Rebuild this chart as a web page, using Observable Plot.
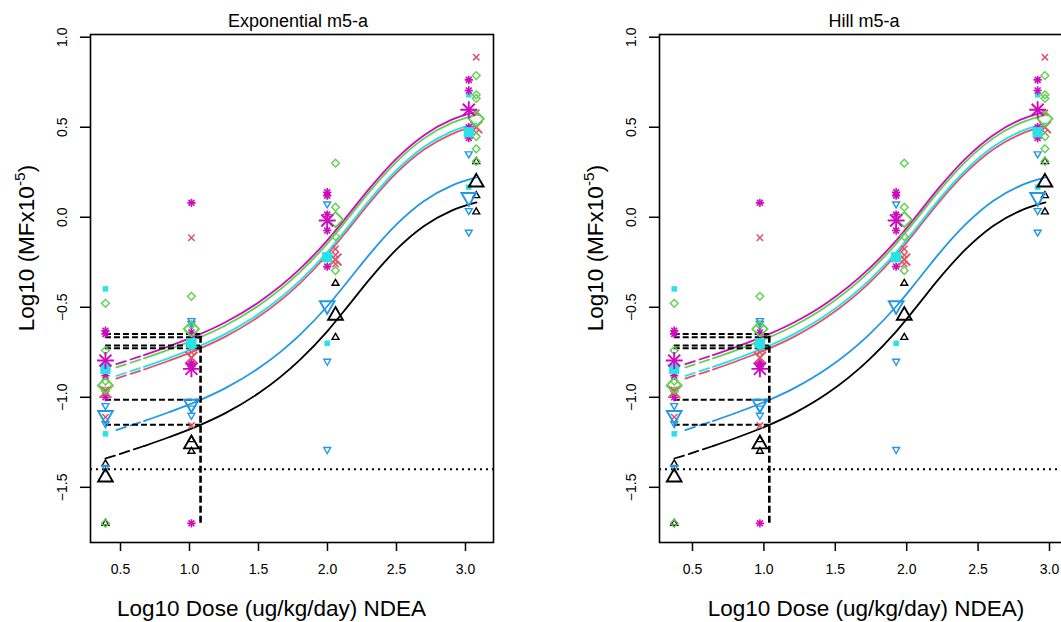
<!DOCTYPE html>
<html>
<head>
<meta charset="utf-8">
<script src="https://cdn.jsdelivr.net/npm/d3@7"></script>
<script src="https://cdn.jsdelivr.net/npm/@observablehq/plot@0.6"></script>
<style>
html, body { margin: 0; padding: 0; background: #fff; overflow: hidden; }
#root { position: relative; width: 1061px; height: 622px; overflow: hidden; background: #fff; }
#root svg { position: absolute; top: 0; }
</style>
</head>
<body>
<div id="root"></div>
<script>
// ---------------- data ----------------
const panelTitles = ["Exponential m5-a", "Hill m5-a"];
const xAxisTitles = ["Log10 Dose (ug/kg/day) NDEA", "Log10 Dose (ug/kg/day) NDEA)"];
const yAxisTitleParts = ["Log10 (MFx10", "-5", ")"];
const xTicks = [0.5, 1.0, 1.5, 2.0, 2.5, 3.0];
const yTicks = [-1.5, -1.0, -0.5, 0.0, 0.5, 1.0];

// subgroups (R palette colours / symbols)
const subgroups = ["black", "blue", "red", "cyan", "green", "magenta"];
const subgroupColors = ["#000000", "#2297E6", "#DF536B", "#28E2E5", "#61D04F", "#CD0BBC"];

// log10 dose of the four dose groups, as placed in each panel
const doseSetA_Exp  = [0.391, 1.014, 1.998, 3.024]; // blue, cyan, magenta
const doseSetB_Exp  = [0.391, 1.014, 2.058, 3.078]; // black, green, red
const doseSetA_Hill = [0.372, 0.972, 1.926, 2.917];
const doseSetB_Hill = [0.372, 0.972, 1.983, 2.968];

// individual observations per dose group
const obsBlack   = [[-1.37, -1.70], [-1.235, -1.30], [-0.367, -0.667], [0.31, 0.12, 0.03]];
const obsBlue    = [[-1.046, -1.147, -1.39], [-0.574, -0.59, -1.06, -1.10], [0.074, -0.80, -1.29], [0.352, 0.037, -0.083]];
const obsRed     = [[-0.96, -1.11], [-0.114, -0.75, -1.157], [-0.176, -0.21, -0.26], [0.889, 0.58, 0.47]];
const obsCyan    = [[-0.398, -0.86, -1.203], [-0.72], [-0.70], [0.68, 0.167]];
const obsGreen   = [[-0.478, -0.74, -0.91, -0.965, -1.70], [-0.439, -0.60], [0.30, 0.056, -0.107, -0.296], [0.787, 0.68, 0.66, 0.448, 0.38, 0.31]];
const obsMagenta = [[-0.63, -0.648, -0.88, -1.0], [0.08, -0.64, -0.81, -0.83, -1.70], [0.139, 0.12, 0.015, -0.074, -0.274], [0.763, 0.704, 0.50, 0.44]];

// group means (large symbols)
const meanBlack   = [-1.444, -1.26, -0.546, 0.194];
const meanBlue    = [-1.10, -1.037, -0.49, 0.111];
const meanRed     = [-0.97, -0.78, -0.235, 0.50];
const meanCyan    = [-0.842, -0.70, -0.222, 0.472];
const meanGreen   = [-0.935, -0.62, -0.013, 0.547];
const meanMagenta = [-0.796, -0.842, -0.018, 0.597];

// fitted curves (doses for each panel, shared responses)
const curveDoseExp  = [0.39, 0.47, 0.67, 0.85, 1.08, 1.26, 1.5, 1.8, 2.0, 2.15, 2.3, 2.5, 2.7, 2.9, 3.08];
const curveDoseHill = [0.373, 0.45, 0.643, 0.817, 1.039, 1.213, 1.445, 1.735, 1.929, 2.074, 2.218, 2.412, 2.605, 2.798, 2.972];
const curveBlack   = [-1.340, -1.321, -1.271, -1.222, -1.153, -1.088, -0.978, -0.792, -0.632, -0.492, -0.349, -0.179, -0.049, 0.037, 0.082];
const curveBlue    = [null, -1.182, -1.132, -1.083, -1.014, -0.949, -0.839, -0.653, -0.493, -0.353, -0.210, -0.040, 0.090, 0.176, 0.221];
const curveRed     = [null, -0.896, -0.846, -0.797, -0.728, -0.663, -0.553, -0.367, -0.207, -0.067, 0.076, 0.246, 0.376, 0.462, 0.507];
const curveCyan    = [null, -0.881, -0.831, -0.782, -0.713, -0.648, -0.538, -0.352, -0.192, -0.052, 0.091, 0.261, 0.391, 0.477, 0.522];
const curveGreen   = [null, -0.834, -0.784, -0.735, -0.666, -0.601, -0.491, -0.305, -0.145, -0.005, 0.138, 0.308, 0.438, 0.524, 0.569];
const curveMagenta = [null, -0.816, -0.766, -0.717, -0.648, -0.583, -0.473, -0.287, -0.127, 0.013, 0.156, 0.326, 0.456, 0.542, 0.587];
const solidFromIndex = 2;

// CES / CED lines
const cesLevels = [-0.648, -0.666, -0.713, -0.728, -1.014, -1.153];
const cedDoseExp = 1.080;
const cedDoseHill = 1.038;
const cedLineBottom = -1.70;
const detectionLimit = -1.40;

// x-axis extent of each panel
const xDomainExp = [0.2826, 3.203];
const xDomainHill = [0.269, 3.091];
const yDomain = [-1.8065, 1.015];

// ---------------- drawing ----------------
const fontFamily = '"Liberation Sans", Arial, Helvetica, sans-serif';
const obsAll = [obsBlack, obsBlue, obsRed, obsCyan, obsGreen, obsMagenta];
const meanAll = [meanBlack, meanBlue, meanRed, meanCyan, meanGreen, meanMagenta];
const curveAll = [curveBlack, curveBlue, curveRed, curveCyan, curveGreen, curveMagenta];
const fmt = d3.format(".1f");

const panels = [
  {doseA: doseSetA_Exp, doseB: doseSetB_Exp, curveDose: curveDoseExp, ced: cedDoseExp, xDomain: xDomainExp, titleDx: 6, xLabelDx: -20.5},
  {doseA: doseSetA_Hill, doseB: doseSetB_Hill, curveDose: curveDoseHill, ced: cedDoseHill, xDomain: xDomainHill, titleDx: 3, xLabelDx: 5}
];

function symbolMarks(rows, k, big) {
  const c = subgroupColors[k];
  const sg = subgroups[k];
  const o = {x: "x", y: "y"};
  if (sg === "black") return [Plot.dot(rows, {...o, symbol: "triangle2", r: big ? 7 : 3.3, stroke: c, fill: "none", strokeWidth: big ? 1.9 : 1.4})];
  if (sg === "blue") return [Plot.dot(rows, {...o, symbol: "triangle2", rotate: 180, r: big ? 7 : 3.3, stroke: c, fill: "none", strokeWidth: big ? 1.9 : 1.4})];
  if (sg === "red") return [Plot.dot(rows, {...o, symbol: "times", r: big ? 5.5 : 3, stroke: c, strokeWidth: big ? 1.9 : 1.5})];
  if (sg === "cyan") return [Plot.dot(rows, {...o, symbol: "square", r: big ? 5.8 : 3.1, fill: c, stroke: "none"})];
  if (sg === "green") return [Plot.dot(rows, {...o, symbol: "diamond2", r: big ? 6.8 : 3.5, stroke: c, fill: "none", strokeWidth: big ? 1.9 : 1.4})];
  return [
    Plot.dot(rows, {...o, symbol: "plus", r: big ? 5.5 : 2.8, stroke: c, strokeWidth: big ? 1.9 : 1.6}),
    Plot.dot(rows, {...o, symbol: "times", r: big ? 5.5 : 2.8, stroke: c, strokeWidth: big ? 1.9 : 1.6})
  ];
}

function buildPanel(p) {
  const P = panels[p];
  const doseOf = [P.doseB, P.doseA, P.doseB, P.doseA, P.doseB, P.doseA];
  const controlDose = P.doseA[0];
  const marks = [];
  marks.push(Plot.ruleY([detectionLimit], {stroke: "#000", strokeWidth: 2, strokeDasharray: "2,4"}));
  // curves: dashed below the first dose, solid after
  curveAll.forEach((ys, k) => {
    const rows = P.curveDose.map((x, j) => ({x, y: ys[j], j})).filter(d => d.y != null);
    marks.push(Plot.line(rows.filter(d => d.j <= solidFromIndex), {x: "x", y: "y", stroke: subgroupColors[k], strokeWidth: 1.8, strokeDasharray: "10,5", curve: "monotone-x"}));
    marks.push(Plot.line(rows.filter(d => d.j >= solidFromIndex), {x: "x", y: "y", stroke: subgroupColors[k], strokeWidth: 1.8, curve: "monotone-x"}));
  });
  // CES horizontal + CED vertical
  marks.push(Plot.ruleY(cesLevels, {y: d => d, x1: () => controlDose, x2: () => P.ced, stroke: "#000", strokeWidth: 2, strokeDasharray: "6,3"}));
  marks.push(Plot.ruleX([P.ced], {x: d => d, y1: () => cedLineBottom, y2: () => d3.max(cesLevels), stroke: "#000", strokeWidth: 2.6, strokeDasharray: "7,3"}));
  // points
  obsAll.forEach((groups, k) => {
    const rows = groups.flatMap((vals, g) => vals.map(v => ({x: doseOf[k][g], y: v})));
    marks.push(...symbolMarks(rows, k, false));
  });
  meanAll.forEach((vals, k) => {
    const rows = vals.map((v, g) => ({x: doseOf[k][g], y: v}));
    marks.push(...symbolMarks(rows, k, true));
  });
  // frame & axes
  marks.push(Plot.frame({stroke: "#000", strokeWidth: 1.6}));
  marks.push(Plot.axisX(xTicks, {tickSize: 9, tickPadding: 13, tickFormat: fmt, fontSize: 14, label: null, strokeWidth: 1.5}));
  marks.push(Plot.axisY(yTicks, {tickSize: 10, tickFormat: () => "", label: null, strokeWidth: 1.5}));
  marks.push(Plot.text(yTicks, {y: d => d, text: d => fmt(d), frameAnchor: "left", dx: -27.5, rotate: -90, textAnchor: "middle", lineAnchor: "middle", fontSize: 14, fill: "#000"}));
  marks.push(Plot.text([panelTitles[p]], {text: d => d, frameAnchor: "top", dx: P.titleDx, dy: -13, lineAnchor: "middle", fontSize: 18, fill: "#000"}));
  marks.push(Plot.text([xAxisTitles[p]], {text: d => d, frameAnchor: "bottom", dx: P.xLabelDx, dy: 66.5, lineAnchor: "middle", fontSize: 22.5, fill: "#000"}));

  const svg = Plot.plot({
    width: 540, height: 622,
    marginLeft: 90, marginRight: 47, marginTop: 34, marginBottom: 80,
    x: {domain: P.xDomain},
    y: {domain: yDomain},
    style: {fontFamily, fontSize: "14px", background: "#fff", color: "#000", overflow: "visible"},
    marks
  });
  // y-axis title with superscript
  const t = d3.select(svg).append("text")
    .attr("transform", "translate(34,248) rotate(-90)")
    .attr("text-anchor", "middle")
    .attr("font-family", fontFamily)
    .attr("font-size", 22.5)
    .attr("fill", "#000");
  t.append("tspan").text(yAxisTitleParts[0]);
  t.append("tspan").attr("font-size", 15.5).attr("dy", -9).text(yAxisTitleParts[1]);
  t.append("tspan").attr("dy", 9).text(yAxisTitleParts[2]);
  return svg;
}

const root = document.getElementById("root");
const left = buildPanel(0);
left.style.left = "0px";
root.appendChild(left);
const right = buildPanel(1);
right.style.left = "569px";
root.appendChild(right);
</script>
</body>
</html>
